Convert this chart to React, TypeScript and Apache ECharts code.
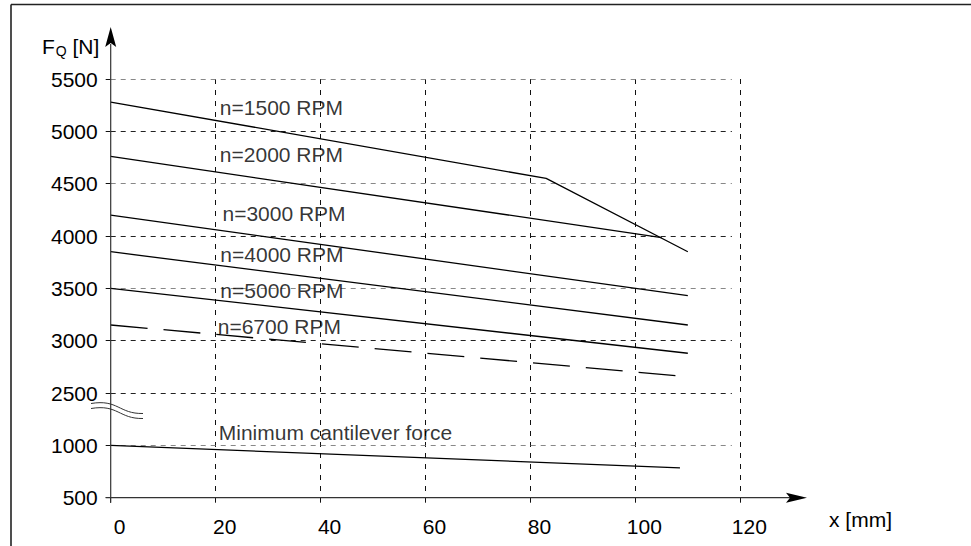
import React, { useEffect, useRef } from "react";
import * as echarts from "echarts";

// Radial load F_Q over the distance x from the shaft shoulder
const yTickLabels = [500, 1000, 2500, 3000, 3500, 4000, 4500, 5000, 5500];
// horizontal guide lines (N) and their shades
const gridFq = [1000, 2500, 3000, 3500, 4000, 4500, 5000, 5500];
const gridShade = ["#888", "#222", "#222", "#888", "#222", "#888", "#222", "#888"];

const x1500 = [0, 83, 110];
const fq1500 = [5280, 4550, 3850];
const x2000 = [0, 105];
const fq2000 = [4760, 3985];
const x3000 = [0, 110];
const fq3000 = [4200, 3430];
const x4000 = [0, 110];
const fq4000 = [3850, 3150];
const x5000 = [0, 110];
const fq5000 = [3500, 2880];
const x6700 = [0, 108];
const fq6700 = [3150, 2665];
const xMin = [0, 108.5];
const fqMin = [1000, 785];

const curveLabels = [
  "n=1500 RPM",
  "n=2000 RPM",
  "n=3000 RPM",
  "n=4000 RPM",
  "n=5000 RPM",
  "n=6700 RPM",
  "Minimum cantilever force",
];
const labelX = [20.8, 20.8, 21.3, 20.9, 20.9, 20.4, 20.6];
const labelFq = [5227, 4775, 4217, 3822, 3483, 3137, 1123];

// Broken y axis: 500..1000 below the break, 2500..5500 above it,
// each 500 N step taking one axis unit.
const toAxis = (v: number) => (v >= 2500 ? 2 + (v - 2500) / 500 : (v - 500) / 500);

const FONT = "'Liberation Sans', Arial, Helvetica, sans-serif";
const FS = 21;
const GL = 110.7;
const GT = 79;
const GW = 629.6;
const GH = 418.7;
const GB = GT + GH;
const GRID_END_X = 118.4;

const pts = (xs: number[], ys: number[]) => xs.map((x, i) => [x, toAxis(ys[i])]);

const lineSeries = (name: string, xs: number[], ys: number[], dash?: number[]) => ({
  name,
  type: "line",
  data: pts(xs, ys),
  symbol: "none",
  lineStyle: { color: "#000", width: 1.3, type: dash ?? "solid" },
  z: 5,
});

export default function App() {
  const ref = useRef<HTMLDivElement>(null);

  useEffect(() => {
    if (!ref.current) return;
    const chart = echarts.init(ref.current, null, { renderer: "svg" });

    const option: any = {
      animation: false,
      backgroundColor: "#fff",
      grid: { left: GL, top: GT, width: GW, height: GH, containLabel: false },
      xAxis: {
        type: "value",
        min: 0,
        max: 120,
        interval: 20,
        axisLine: { show: false },
        axisTick: { show: true, length: 5, lineStyle: { color: "#111", width: 1 } },
        axisLabel: {
          color: "#000",
          fontFamily: FONT,
          fontSize: FS,
          margin: 18,
          padding: [0, 0, 0, 18],
        },
        splitLine: {
          show: true,
          showMinLine: false,
          lineStyle: { color: "#111", width: 1, type: [5, 6] },
        },
      },
      yAxis: {
        type: "value",
        min: 0,
        max: 8,
        interval: 1,
        axisLine: { show: false },
        axisTick: { show: true, length: 5, lineStyle: { color: "#111", width: 1 } },
        axisLabel: {
          color: "#000",
          fontFamily: FONT,
          fontSize: FS,
          margin: 13,
          formatter: (v: number) => String(yTickLabels[Math.round(v)] ?? ""),
        },
        splitLine: { show: false },
      },
      series: [
        {
          name: "guides",
          type: "line",
          data: [],
          silent: true,
          markLine: {
            symbol: "none",
            silent: true,
            label: { show: false },
            data: gridFq.map((v, i) => [
              {
                coord: [0, toAxis(v)],
                lineStyle: { color: gridShade[i], width: 1, type: [5, 5] },
              },
              { coord: [GRID_END_X, toAxis(v)] },
            ]),
          },
          z: 1,
        },
        lineSeries("1500", x1500, fq1500),
        lineSeries("2000", x2000, fq2000),
        lineSeries("3000", x3000, fq3000),
        lineSeries("4000", x4000, fq4000),
        lineSeries("5000", x5000, fq5000),
        lineSeries("6700", x6700, fq6700, [37, 16]),
        lineSeries("min", xMin, fqMin),
        {
          name: "labels",
          type: "scatter",
          symbolSize: 0,
          data: curveLabels.map((t, i) => ({ value: [labelX[i], toAxis(labelFq[i])], name: t })),
          label: {
            show: true,
            position: "right",
            distance: 0,
            color: "#000",
            fontFamily: FONT,
            fontSize: FS,
            formatter: (p: any) => p.name,
          },
          silent: true,
          z: 6,
        },
      ],
      graphic: [
        // frame
        { type: "line", shape: { x1: 11, y1: 4.5, x2: 971, y2: 4.5 }, style: { stroke: "#222", lineWidth: 1.6 } },
        { type: "line", shape: { x1: 11, y1: 4.5, x2: 11, y2: 546 }, style: { stroke: "#222", lineWidth: 1.6 } },
        // y axis with arrow
        { type: "line", shape: { x1: GL, y1: GB + 5, x2: GL, y2: 44 }, style: { stroke: "#333", lineWidth: 1.2 }, z: 10 },
        {
          type: "polygon",
          shape: { points: [[GL - 5.5, 47], [GL, 27], [GL + 5.5, 47], [GL, 43]] },
          style: { fill: "#000" },
          z: 10,
        },
        // x axis with arrow
        { type: "line", shape: { x1: GL - 5, y1: GB, x2: 792, y2: GB }, style: { stroke: "#333", lineWidth: 1.2 }, z: 10 },
        {
          type: "polygon",
          shape: { points: [[786, GB - 5], [807, GB], [786, GB + 5], [790, GB]] },
          style: { fill: "#000" },
          z: 10,
        },
        // axis break marks
        {
          type: "bezierCurve",
          shape: { x1: 91, y1: 403.5, cpx1: 118, cpy1: 399, cpx2: 119, cpy2: 414, x2: 143, y2: 413.5 },
          style: { stroke: "#333", lineWidth: 1, fill: "none" },
          z: 10,
        },
        {
          type: "bezierCurve",
          shape: { x1: 91, y1: 408.5, cpx1: 118, cpy1: 404, cpx2: 119, cpy2: 419, x2: 143, y2: 418.5 },
          style: { stroke: "#333", lineWidth: 1, fill: "none" },
          z: 10,
        },
        // axis titles
        {
          type: "text",
          x: 42,
          y: 46,
          style: {
            text: "{f|F}{q|Q}{f| [N]}",
            verticalAlign: "middle",
            rich: {
              f: { fontSize: FS, fontFamily: FONT, fill: "#000" },
              q: { fontSize: 14, fontFamily: FONT, fill: "#000", padding: [10, 0, 0, 1] },
            },
          },
          z: 10,
        },
        {
          type: "text",
          x: 829,
          y: 519,
          style: { text: "x [mm]", fontSize: FS, fontFamily: FONT, fill: "#000", verticalAlign: "middle" },
          z: 10,
        },
      ],
    };

    chart.setOption(option);
    return () => chart.dispose();
  }, []);

  return (
    <div
      ref={ref}
      style={{ position: "fixed", left: 0, top: 0, width: 971, height: 546, background: "#fff" }}
    />
  );
}
